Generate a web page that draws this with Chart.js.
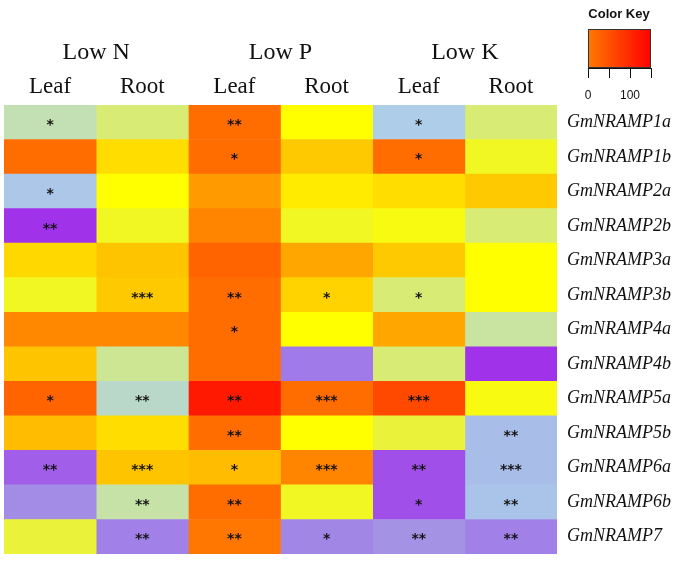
<!DOCTYPE html>
<html>
<head>
<meta charset="utf-8">
<script src="https://cdn.jsdelivr.net/npm/chart.js@4.4.0/dist/chart.umd.min.js"></script>
<style>
  html, body { margin: 0; padding: 0; background: #fff; }
  #wrap { width: 680px; height: 563px; position: relative; }
</style>
</head>
<body>
<div id="wrap"><canvas id="heat"></canvas></div>
<script>
const genes = ["GmNRAMP1a", "GmNRAMP1b", "GmNRAMP2a", "GmNRAMP2b", "GmNRAMP3a", "GmNRAMP3b",
  "GmNRAMP4a", "GmNRAMP4b", "GmNRAMP5a", "GmNRAMP5b", "GmNRAMP6a", "GmNRAMP6b", "GmNRAMP7"];
const groups = ["Low N", "Low P", "Low K"];
const tissues = ["Leaf", "Root", "Leaf", "Root", "Leaf", "Root"];

// expression level per column
const lowNLeaf = [-1, 5, -1.7, -4, 2.2, 0.6, 4.4, 3, 5.1, 3.2, -3.4, -2.7, 0.4];
const lowNRoot = [0, 2, 1, 0.6, 3, 2.8, 4.4, -0.5, -1.2, 2, 3, -0.8, -2.9];
const lowPLeaf = [5, 5, 4, 4.5, 5.1, 5, 5, 5, 5.9, 5, 3.2, 5, 4.8];
const lowPRoot = [1, 2.8, 1.6, 0.6, 3.7, 2.4, 1, -3, 5, 1, 4.5, 0.6, -2.8];
const lowKLeaf = [-1.5, 5, 2, 0.8, 2.8, 0, 3.7, 0, 5.4, 0.4, -3.6, -3.6, -2.6];
const lowKRoot = [0, 0.6, 2.8, 0, 1, 1, -0.7, -4, 0.8, -2, -2, -1.8, -2.9];

// significance marks
const starsNLeaf = ["*", "", "*", "**", "", "", "", "", "*", "", "**", "", ""];
const starsNRoot = ["", "", "", "", "", "***", "", "", "**", "", "***", "**", "**"];
const starsPLeaf = ["**", "*", "", "", "", "**", "*", "", "**", "**", "*", "**", "**"];
const starsPRoot = ["", "", "", "", "", "*", "", "", "***", "", "***", "", "*"];
const starsKLeaf = ["*", "*", "", "", "", "*", "", "", "***", "", "**", "*", "**"];
const starsKRoot = ["", "", "", "", "", "", "", "", "", "**", "***", "**", "**"];

const keyTicks = [0, 50, 100, 150];
const keyLabels = ["0", "", "100", ""];

const columns = [lowNLeaf, lowNRoot, lowPLeaf, lowPRoot, lowKLeaf, lowKRoot];
const stars = [starsNLeaf, starsNRoot, starsPLeaf, starsPRoot, starsKLeaf, starsKRoot];

// colour ramp purple -> blue -> green -> yellow -> orange -> red
const stops = [
  [-4, "#a033ea"], [-3, "#a07ae8"], [-2.5, "#a598e4"], [-2, "#a8bde8"], [-1.5, "#aecde8"],
  [-1, "#c2e0b4"], [0, "#d8eb74"], [0.5, "#eef52a"], [1, "#ffff00"], [2, "#ffdd00"],
  [3, "#ffc400"], [4, "#ff9a00"], [5, "#ff6d00"], [6, "#ff1000"]
];
function hex(h) { return [1, 3, 5].map(i => parseInt(h.substr(i, 2), 16)); }
function colorFor(v) {
  if (v <= stops[0][0]) return stops[0][1];
  for (let i = 1; i < stops.length; i++) {
    if (v <= stops[i][0]) {
      const [a, ca] = stops[i - 1], [b, cb] = stops[i];
      const t = (v - a) / (b - a), p = hex(ca), q = hex(cb);
      const c = p.map((x, k) => Math.round(x + (q[k] - x) * t));
      return `rgb(${c[0]},${c[1]},${c[2]})`;
    }
  }
  return stops[stops.length - 1][1];
}

const overlay = {
  id: "overlay",
  afterDatasetsDraw(chart) {
    const ctx = chart.ctx;
    ctx.save();
    ctx.fillStyle = "#111";
    ctx.font = "bold 14px 'DejaVu Sans'";
    ctx.textAlign = "center";
    ctx.textBaseline = "middle";
    chart.data.datasets.forEach((ds, i) => {
      chart.getDatasetMeta(i).data.forEach((bar, j) => {
        const s = stars[i][j];
        if (s) {
          const p = bar.getCenterPoint();
          ctx.fillText(s, p.x, p.y + 3);
        }
      });
    });
    ctx.restore();
  },
  afterDraw(chart) {
    // colour key, top right
    const ctx = chart.ctx;
    const x0 = 588, x1 = 651, y0 = 29, y1 = 68;
    ctx.save();
    ctx.fillStyle = "#111";
    ctx.font = "bold 13px 'Liberation Sans'";
    ctx.textAlign = "center";
    ctx.textBaseline = "middle";
    ctx.fillText("Color Key", 619, 14);
    const g = ctx.createLinearGradient(x0, 0, x1, 0);
    g.addColorStop(0, "#ff7a00");
    g.addColorStop(1, "#ff0000");
    ctx.fillStyle = g;
    ctx.fillRect(x0, y0, x1 - x0, y1 - y0);
    ctx.strokeStyle = "#333";
    ctx.lineWidth = 1;
    ctx.strokeRect(x0 + 0.5, y0 + 0.5, x1 - x0 - 1, y1 - y0 - 1);
    ctx.strokeStyle = "#111";
    ctx.font = "12px 'Liberation Sans'";
    ctx.fillStyle = "#111";
    keyTicks.forEach((t, i) => {
      const x = x0 + (x1 - x0) * t / keyTicks[keyTicks.length - 1];
      const xs = Math.round(x) + 0.5;
      ctx.beginPath();
      ctx.moveTo(xs, y1);
      ctx.lineTo(xs, y1 + 10);
      ctx.stroke();
      if (keyLabels[i]) ctx.fillText(keyLabels[i], x, 96);
    });
    ctx.beginPath();
    ctx.moveTo(x0, y1 + 0.5);
    ctx.lineTo(x1, y1 + 0.5);
    ctx.stroke();
    ctx.restore();
  }
};

new Chart(document.getElementById("heat"), {
  type: "bar",
  data: {
    labels: genes,
    datasets: columns.map((col, i) => ({
      label: tissues[i],
      data: col.map(() => 1),
      backgroundColor: col.map(colorFor),
      borderWidth: 0,
      barPercentage: 1,
      categoryPercentage: 1
    }))
  },
  options: {
    indexAxis: "y",
    responsive: true,
    maintainAspectRatio: false,
    animation: false,
    layout: { padding: { left: 4, right: 0, top: 0, bottom: 9 } },
    plugins: { legend: { display: false }, tooltip: { enabled: false } },
    scales: {
      x: {
        type: "linear", position: "top", stacked: true, min: 0, max: 6, weight: 0,
        grid: { display: false, drawTicks: false }, border: { display: false },
        afterBuildTicks: axis => { axis.ticks = tissues.map((t, i) => ({ value: i + 0.5 })); },
        afterFit: axis => { axis.height = 35; axis.paddingLeft = 0; axis.paddingRight = 0; },
        ticks: {
          autoSkip: false, maxRotation: 0, padding: 4, color: "#111",
          font: { family: "'Liberation Serif'", size: 23 },
          callback: (v, i) => tissues[i]
        }
      },
      x2: {
        type: "linear", position: "top", min: 0, max: 6, weight: 1,
        grid: { display: false, drawTicks: false }, border: { display: false },
        afterBuildTicks: axis => { axis.ticks = groups.map((g, i) => ({ value: i * 2 + 1 })); },
        afterFit: axis => { axis.height = 70; axis.paddingLeft = 0; axis.paddingRight = 0; },
        ticks: {
          autoSkip: false, maxRotation: 0, padding: 3, color: "#111",
          font: { family: "'Liberation Serif'", size: 24 },
          callback: (v, i) => groups[i]
        }
      },
      y: {
        position: "right", stacked: true,
        grid: { display: false, drawTicks: false }, border: { display: false },
        afterFit: axis => { axis.width = 123; axis.paddingTop = 0; axis.paddingBottom = 0; },
        ticks: {
          padding: 10, color: "#111",
          font: { family: "'Liberation Serif'", size: 18, style: "italic" }
        }
      }
    }
  },
  plugins: [overlay]
});
</script>
</body>
</html>
